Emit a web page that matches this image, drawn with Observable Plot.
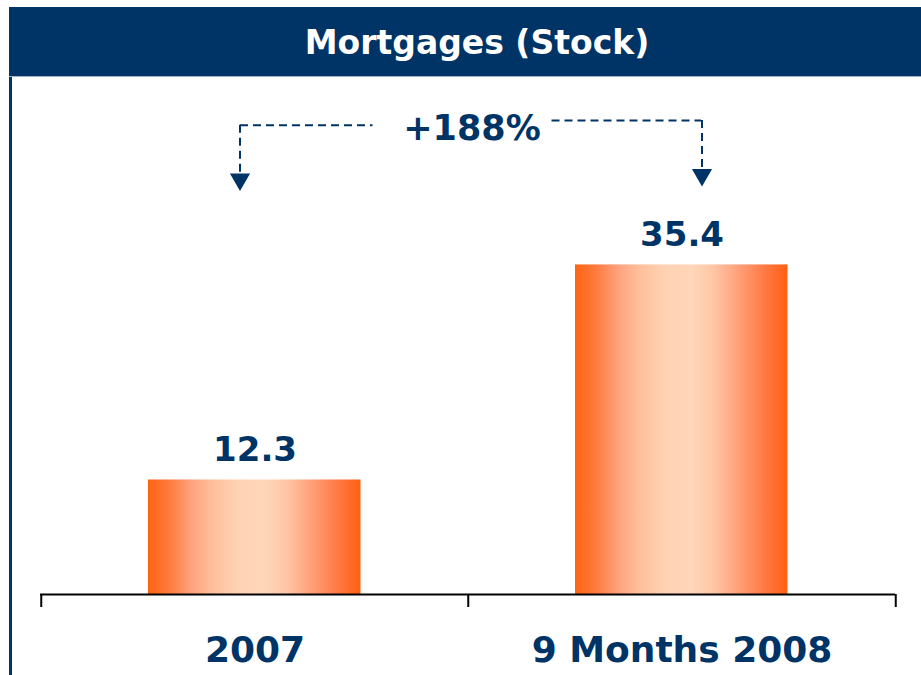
<!DOCTYPE html>
<html>
<head>
<meta charset="utf-8">
<script src="https://cdn.jsdelivr.net/npm/d3@7"></script>
<script src="https://cdn.jsdelivr.net/npm/@observablehq/plot@0.6"></script>
<style>
  html, body { margin: 0; padding: 0; background: #fff; }
  #wrap { position: relative; width: 921px; height: 675px; overflow: hidden; background: #fff; }
  #banner { position: absolute; left: 9px; top: 7px; width: 912px; height: 70px; background: #003366;
    border-bottom: 1px solid #9fb3cc; box-sizing: border-box;
    color: #fff; font-family: "DejaVu Sans", sans-serif; font-weight: bold; font-size: 33px;
    line-height: 72px; text-align: center; padding-left: 24px; }
  #leftline { position: absolute; left: 9px; top: 77px; width: 3px; bottom: 0; background: #003366; }
  #chart { position: absolute; left: 0; top: 77px; }
</style>
</head>
<body>
<div id="wrap">
  <div id="banner">Mortgages (Stock)</div>
  <div id="leftline"></div>
  <div id="chart"></div>
</div>
<script>
// ---- data ----
const categories = ["2007", "9 Months 2008"];
const values = [12.3, 35.4];
const valueLabels = ["12.3", "35.4"];
const changeLabel = "+188%";
// bracket annotation levels (in data units)
const bracketCats = ["2007", "9 Months 2008"];
const bracketTop = [50.4, 50.9];
const bracketTip = [43.4, 43.9];

const data = categories.map((c, i) => ({cat: c, value: values[i], label: valueLabels[i]}));
const brackets = bracketCats.map((c, i) => ({cat: c, top: bracketTop[i], tip: bracketTip[i]}));

const navy = "#003366";
const dash = "8,5";

const gradientDefs = () => {
  const g = d3.create("svg:g");
  const grad = g.append("defs").append("linearGradient")
    .attr("id", "barGrad").attr("x1", "0").attr("x2", "1").attr("y1", "0").attr("y2", "0");
  [[0, "#ff6312"], [0.1, "#ff7b3e"], [0.2, "#ffa17b"], [0.3, "#ffbf9b"], [0.42, "#ffd2b3"],
   [0.55, "#ffd6b9"], [0.65, "#ffc6a6"], [0.76, "#ffa37d"], [0.88, "#ff7d4a"], [1, "#ff5f10"]]
    .forEach(([o, c]) => grad.append("stop").attr("offset", o).attr("stop-color", c));
  return g.node();
};

const chart = Plot.plot({
  width: 921,
  height: 598,
  marginLeft: 40,
  marginRight: 26,
  marginTop: 0,
  marginBottom: 81,
  x: {domain: categories, padding: 0, axis: null},
  y: {domain: [0, 55.53], axis: null},
  style: {fontFamily: "DejaVu Sans, sans-serif", background: "transparent", overflow: "visible"},
  marks: [
    gradientDefs,
    Plot.barY(data, {x: "cat", y: "value", fill: "url(#barGrad)", insetLeft: 107, insetRight: 107.5}),
    Plot.ruleY([0], {stroke: "#000", strokeWidth: 2}),
    // axis ticks at band edges
    Plot.ruleX(categories, {x: d => d, dx: -213.75, insetTop: 517, insetBottom: -13, stroke: "#000", strokeWidth: 2}),
    Plot.ruleX(categories.slice(-1), {x: d => d, dx: 213.75, insetTop: 517, insetBottom: -13, stroke: "#000", strokeWidth: 2}),
    // value labels
    Plot.text(data, {x: "cat", y: "value", text: "label", dy: -19, lineAnchor: "bottom",
      fontSize: 34, fontWeight: "bold", fill: navy}),
    // category labels
    Plot.text(categories, {x: d => d, frameAnchor: "bottom", dy: 67, lineAnchor: "bottom",
      fontSize: 36, fontWeight: "bold", fill: navy}),
    // bracket: horizontal dashed segments
    Plot.ruleY(brackets.slice(0, 1), {y: "top", x1: "cat", x2: "cat", insetLeft: 199, insetRight: 95.5,
      stroke: navy, strokeWidth: 2, strokeDasharray: dash}),
    Plot.ruleY(brackets.slice(1), {y: "top", x1: "cat", x2: "cat", insetLeft: 83.5, insetRight: 194,
      stroke: navy, strokeWidth: 2, strokeDasharray: dash}),
    // bracket: vertical dashed segments
    Plot.ruleX(brackets.slice(0, 1), {x: "cat", y1: "top", y2: "tip", dx: -15, insetBottom: 14,
      stroke: navy, strokeWidth: 2, strokeDasharray: dash}),
    Plot.ruleX(brackets.slice(1), {x: "cat", y1: "top", y2: "tip", dx: 20, insetBottom: 14,
      stroke: navy, strokeWidth: 2, strokeDasharray: dash}),
    // arrowheads
    Plot.dot(brackets.slice(0, 1), {x: "cat", y: "tip", dx: -15, dy: -11, symbol: "triangle", rotate: 180, r: 7.5, fill: navy, stroke: "none"}),
    Plot.dot(brackets.slice(1), {x: "cat", y: "tip", dx: 20, dy: -11, symbol: "triangle", rotate: 180, r: 7.5, fill: navy, stroke: "none"}),
    // change label
    Plot.text([changeLabel], {text: d => d, frameAnchor: "middle", y: () => bracketTop[0], dx: 4, dy: 4,
      lineAnchor: "middle", fontSize: 35, fontWeight: "bold", fill: navy})
  ]
});
document.getElementById("chart").appendChild(chart);
</script>
</body>
</html>
